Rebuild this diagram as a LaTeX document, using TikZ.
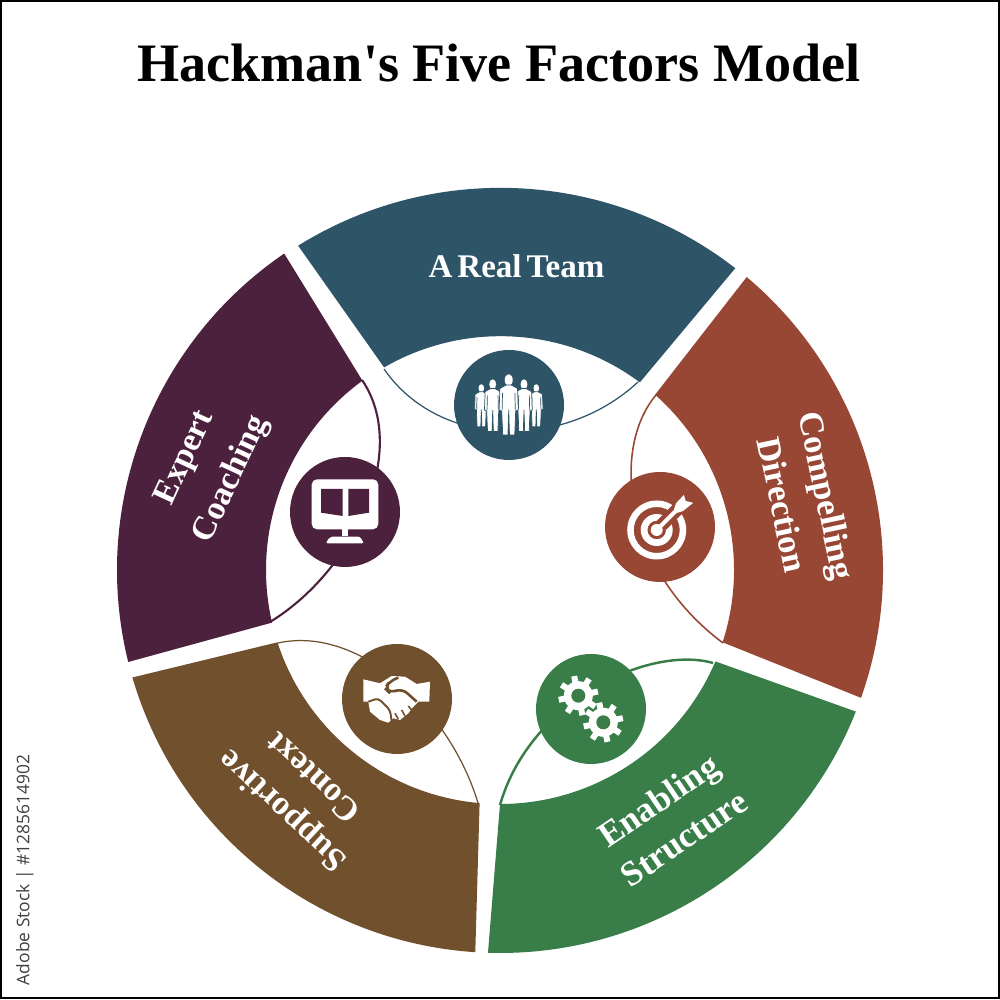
\documentclass[tikz,border=0pt]{standalone}
\usepackage{fontspec}
\setmainfont{Liberation Serif}
\newfontfamily\stockfont{Open Sans}

\definecolor{teamcol}{HTML}{2E5468}
\definecolor{dircol}{HTML}{984735}
\definecolor{enablecol}{HTML}{397E48}
\definecolor{contextcol}{HTML}{71502D}
\definecolor{coachcol}{HTML}{4C213D}

% one figure of the group, head at (#1,#2), size #3
\newcommand{\teamman}[3]{
    \begin{scope}[shift={(#1,#2)}, scale=#3]
        \fill[white] (0,0) ellipse (0.04 and 0.058);
        \filldraw[white, draw=teamcol, line width=0.2pt]
            (-0.025,-0.05) -- (-0.088,-0.085) -- (-0.096,-0.30) -- (-0.07,-0.31)
            -- (-0.06,-0.55) -- (-0.008,-0.55) -- (0,-0.30) -- (0.008,-0.55)
            -- (0.06,-0.55) -- (0.07,-0.31) -- (0.096,-0.30) -- (0.088,-0.085)
            -- (0.025,-0.05) -- cycle;
        \draw[teamcol, line width=0.2pt] (-0.062,-0.13) -- (-0.066,-0.30) (0.062,-0.13) -- (0.066,-0.30);
    \end{scope}
}
% one cog of the pair, centre (#1,#2)
\newcommand{\cogwheel}[2]{
    \begin{scope}[shift={(#1,#2)}]
        \foreach \a in {0,45,...,315}
            \fill[white, rotate=\a+12] (-0.03,0.1) rectangle (0.03,0.2);
        \fill[white] (0,0) circle (0.145);
        \fill[enablecol] (0,0) circle (0.07);
    \end{scope}
}

\begin{document}
\begin{tikzpicture}[
    rim/.style={line width=0.35pt},
    badge/.style={circle, minimum size=1.1cm, inner sep=0pt},
    seglabel/.style={text=white, align=center, font=\fontsize{#1}{13}\selectfont\bfseries}
]
    \useasboundingbox (0,0) rectangle (10,10);
    \fill[white] (0,0) rectangle (10,10);
    \draw[black, line width=0.4pt] (0.01,0.02) rectangle (9.99,9.99);

    \node[font=\fontsize{15.4}{18}\selectfont\bfseries] (title) at (4.99,9.37) {Hackman\textquotesingle s Five Factors Model};

    % segments of the ring
    \begin{scope}[shift={(5,4.3)}]
        \fill[teamcol] (121.9:3.82) arc[start angle=121.9, end angle=52.2, radius=3.83]
            -- (53.3:2.34) arc[start angle=53.3, end angle=120, radius=2.33] -- cycle;
        \fill[dircol] (49.9:3.83) arc[start angle=49.9, end angle=-19.5, radius=3.83]
            -- (-18:2.34) arc[start angle=-18, end angle=48.5, radius=2.34] -- cycle;
        \fill[enablecol] (-21.7:3.83) arc[start angle=-21.7, end angle=-91.8, radius=3.83]
            -- (-90:2.34) arc[start angle=-90, end angle=-23, radius=2.34] -- cycle;
        \fill[contextcol] (-93.7:3.83) arc[start angle=-93.7, end angle=-163.7, radius=3.83]
            -- (-162:2.34) arc[start angle=-162, end angle=-95, radius=2.34] -- cycle;
        \fill[coachcol] (-166.1:3.83) arc[start angle=-166.1, end angle=-235.7, radius=3.83]
            -- (126:2.34) arc[start angle=126, end angle=193, radius=2.34] -- cycle;
    \end{scope}

    % thin lines closing the white lenses
    \coordinate (teamL) at (3.84,6.31);
    \coordinate (teamR) at (6.38,6.18);
    \coordinate (dirT) at (6.56,6.05);
    \coordinate (dirB) at (7.23,3.57);
    \coordinate (enableT) at (7.13,3.37);
    \coordinate (enableB) at (5.00,1.95);
    \coordinate (contextT) at (2.78,3.57);
    \coordinate (contextB) at (4.78,1.97);
    \coordinate (coachT) at (3.62,6.20);
    \coordinate (coachB) at (2.70,3.78);

    \draw[teamcol, rim] (teamL) .. controls (4.40,5.50) and (5.65,5.50) .. (teamR);
    \draw[dircol, line width=0.45pt] (dirT) .. controls (6.10,5.50) and (6.25,4.30) .. (dirB);
    \draw[enablecol, line width=0.7pt] (enableT) .. controls (6.50,3.55) and (5.30,3.00) .. (enableB);
    \draw[contextcol, rim] (contextT) .. controls (3.60,3.75) and (4.50,2.90) .. (contextB);
    \draw[coachcol, line width=0.6pt] (coachT) .. controls (4.10,5.50) and (3.55,4.30) .. (coachB);

    % badges
    \node[badge, fill=teamcol] (teamicon) at (5.09,5.95) {};
    \node[badge, fill=dircol] (diricon) at (6.60,4.73) {};
    \node[badge, fill=enablecol] (enableicon) at (5.91,2.91) {};
    \node[badge, fill=contextcol] (contexticon) at (3.97,3.01) {};
    \node[badge, fill=coachcol] (coachicon) at (3.45,4.88) {};

    % group of people
    \teamman{4.813}{6.117}{0.7}
    \teamman{5.363}{6.117}{0.7}
    \teamman{4.927}{6.157}{0.86}
    \teamman{5.24}{6.157}{0.86}
    \teamman{5.087}{6.20}{1.0}

    % target with arrow
    \begin{scope}[shift={(6.567,4.70)}]
        \fill[white, even odd rule] (0,0) circle (0.295) (0,0) circle (0.23);
        \fill[white, even odd rule] (0,0) circle (0.16) (0,0) circle (0.093);
        \fill[white] (0,0) circle (0.06);
        \begin{scope}[rotate=45]
            \fill[dircol] (0.07,-0.065) rectangle (0.34,0.065);
            \fill[white] (0,-0.02) rectangle (0.30,0.02);
            \fill[white] (0.26,0.02) -- (0.325,0.052) -- (0.44,0.056) -- (0.41,0) -- (0.45,-0.066)
                -- (0.32,-0.052) -- (0.26,-0.02) -- cycle;
        \end{scope}
    \end{scope}

    % cogs
    \cogwheel{5.783}{3.043}
    \cogwheel{6.033}{2.777}

    % handshake
    \fill[white] (3.633,3.207) -- (3.80,3.167) -- (3.917,3.24) -- (4.05,3.233) -- (4.167,3.16)
        -- (4.30,3.183) -- (4.293,2.983) -- (4.183,2.983) -- (4.133,2.933) -- (4.083,2.867)
        -- (4.00,2.80) -- (3.933,2.817) -- (3.883,2.773) -- (3.80,2.80) -- (3.70,2.883)
        -- (3.683,2.983) -- (3.633,2.983) -- cycle;
    \draw[contextcol, line width=0.75pt, rounded corners=2pt]
        (3.983,3.223) -- (3.90,3.193) -- (3.85,3.117) -- (3.90,3.067) -- (4.017,3.117) -- (4.167,2.983);
    \draw[contextcol, line width=0.55pt, rounded corners=1pt]
        (3.683,2.983) -- (3.783,3.017) -- (3.90,2.90) -- (3.917,2.783);
    \draw[contextcol, line width=0.45pt]
        (3.95,2.867) -- (3.983,2.807) (4.017,2.90) -- (4.05,2.84) (4.083,2.94) -- (4.117,2.90);

    % monitor with book
    \fill[white, rounded corners=1.5pt] (3.117,5.207) rectangle (3.783,4.707);
    \fill[coachcol] (3.21,5.11) -- (3.427,5.11) -- (3.427,4.84) -- (3.21,4.873) -- cycle;
    \fill[coachcol] (3.483,5.11) -- (3.69,5.11) -- (3.69,4.873) -- (3.483,4.84) -- cycle;
    \fill[white] (3.417,4.71) rectangle (3.483,4.64);
    \fill[white, rounded corners=0.6pt] (3.30,4.633) -- (3.60,4.633) -- (3.64,4.567) -- (3.257,4.567) -- cycle;

    % labels
    \node[seglabel=9.4] (teamlabel) at (5.165,7.34) {\spaceskip=0.15em A Real Team};
    \node[seglabel=9.8, rotate=-78] (dirlabel) at (8.05,5.00) {Compelling\\Direction};
    \node[seglabel=10, rotate=34] (enablelabel) at (6.71,1.81) {Enabling\\Structure};
    \node[seglabel=9.7, rotate=137] (contextlabel) at (2.97,2.05) {Supportive\\Context};
    \node[seglabel=9.6, rotate=65] (coachlabel) at (2.09,5.31) {Expert\\[1.5pt]Coaching};

    \node[rotate=90, text=black!75, font=\stockfont\fontsize{4.95}{6}\selectfont] (stock) at (0.25,1.30) {Adobe Stock | \#1285614902};
\end{tikzpicture}
\end{document}
